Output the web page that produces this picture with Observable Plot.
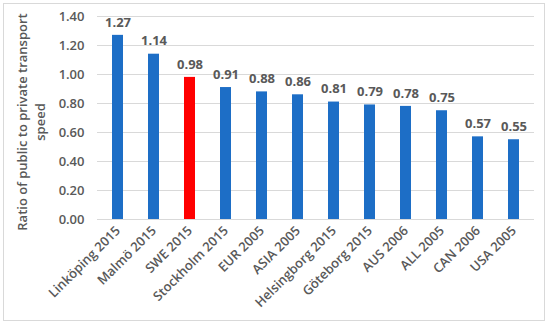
<!DOCTYPE html>
<html>
<head>
<meta charset="utf-8">
<script src="https://cdn.jsdelivr.net/npm/d3@7"></script>
<script src="https://cdn.jsdelivr.net/npm/@observablehq/plot@0.6"></script>
<style>
  html, body { margin: 0; padding: 0; background: #fff; }
  #wrap { position: relative; width: 550px; height: 326px; }
  #border { position: absolute; left: 3px; top: 3px; width: 542px; height: 318px; border: 1px solid #d9d9d9; box-sizing: border-box; pointer-events: none; }
</style>
</head>
<body>
<div id="wrap"><div id="border"></div></div>
<script>
const categories = ["Linköping 2015", "Malmö 2015", "SWE 2015", "Stockholm 2015", "EUR 2005", "ASIA 2005", "Helsingborg 2015", "Göteborg 2015", "AUS 2006", "ALL 2005", "CAN 2006", "USA 2005"];
const ratios = [1.27, 1.14, 0.98, 0.91, 0.88, 0.86, 0.81, 0.79, 0.78, 0.75, 0.57, 0.55];
const highlighted = ["SWE 2015"];
const yTicks = [0, 0.2, 0.4, 0.6, 0.8, 1.0, 1.2, 1.4];
const yTitle = "Ratio of public to private transport\nspeed";

const data = categories.map((c, i) => ({category: c, value: ratios[i], hl: highlighted.includes(c)}));

const font = "'Open Sans', sans-serif";
const chart = Plot.plot({
  width: 550,
  height: 326,
  marginLeft: 97,
  marginRight: 16,
  marginTop: 16,
  marginBottom: 107,
  style: {fontFamily: font, fontSize: "13px", color: "#595959", background: "transparent"},
  x: {domain: categories, paddingInner: 0.69, paddingOuter: 0.345, align: 0.5, label: null},
  y: {domain: [0, 1.4], ticks: yTicks, label: null},
  marks: [
    Plot.gridY(yTicks, {stroke: "#d9d9d9", strokeOpacity: 1, strokeWidth: 1}),
    Plot.axisY(yTicks, {tickSize: 0, tickPadding: 13, tickFormat: d3.format(".2f"), fontSize: 13, fontWeight: 600, fill: "#595959", label: null}),
    Plot.axisX({tickRotate: -45, tickSize: 0, tickPadding: 9, fontSize: 13, fontWeight: 600, fill: "#595959", label: null}),
    Plot.barY(data, {x: "category", y: "value", fill: d => d.hl ? "#ff0000" : "#1d6ec6"}),
    Plot.text(data, {x: "category", y: "value", text: d => d3.format(".2f")(d.value), dy: -13, fontWeight: "bold", fontSize: 13, fill: "#595959"}),
    Plot.text([yTitle], {frameAnchor: "left", textAnchor: "middle", text: d => d, rotate: -90, dx: -67, dy: 4, fontSize: 13, fontWeight: 600, fill: "#595959", lineHeight: 1.35})
  ]
});
document.getElementById("wrap").prepend(chart);
</script>
</body>
</html>
